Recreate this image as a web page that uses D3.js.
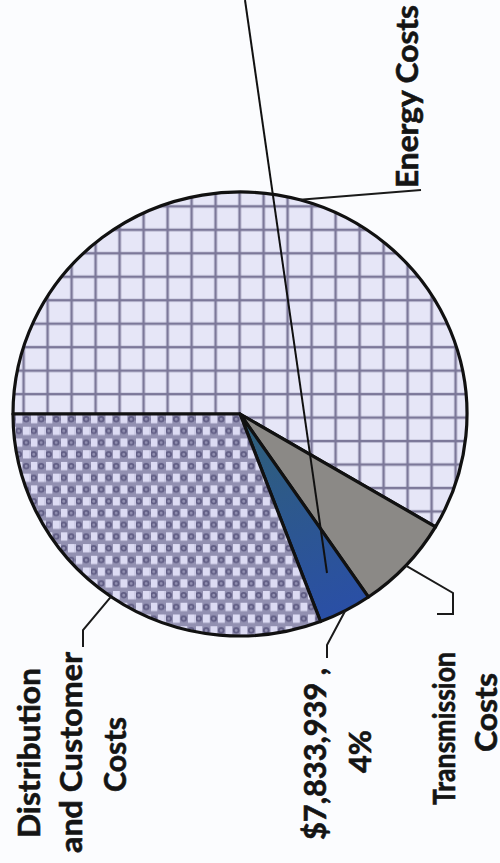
<!DOCTYPE html>
<html>
<head>
<meta charset="utf-8">
<script src="https://cdn.jsdelivr.net/npm/d3@7/dist/d3.min.js"></script>
<style>
	body { margin: 0; background: #fbfcfe; }
	svg { display: block; }
</style>
</head>
<body>
<div id="chart"></div>
<script>
// slices, clockwise from 9 o'clock
var categories = ["Energy Costs", "Transmission Costs", "Other", "Distribution and Customer Costs"];
var values = [120500000, 14300000, 7833939, 63400000];
var labelLines = [
	["Energy Costs"],
	["Transmission", "Costs"],
	null, // built from the value below
	["Distribution", "and Customer", "Costs"]
];

var width = 500,
	height = 863,
	cx = 240,
	cy = 414,
	radius = 227,
	squash = 0.978;

// where each label sits (baseline x, start y, line length) and the leader bends
var layout = [
	{lines: [[418, 188, 183]], leader: [[421, 190]]},
	{lines: [[455, 805, 153], [497, 752, 79]], leader: [[453, 593], [453, 614], [437, 614]]},
	{lines: [[326, 840, 172], [371, 773, 43]], leader: [[327, 645], [327, 658]]},
	{lines: [[40, 838, 170], [82, 853, 201], [126, 792, 75]], leader: [[83, 630], [83, 647]]}
];

var total = d3.sum(values);
labelLines[2] = [d3.format("$,")(values[2]) + " ,", d3.format(".0%")(values[2] / total)];

var svg = d3.select("#chart").append("svg")
	.attr("width", width)
	.attr("height", height);

var defs = svg.append("defs");

// square grid fill
var grid = defs.append("pattern")
	.attr("id", "grid")
	.attr("patternUnits", "userSpaceOnUse")
	.attr("x", -12.5).attr("y", -8.4)
	.attr("width", 24).attr("height", 24);
grid.append("rect").attr("width", 24).attr("height", 24).attr("fill", "#e6e6f7");
grid.append("rect").attr("x", 10.8).attr("width", 2.6).attr("height", 24).attr("fill", "#7c7899");
grid.append("rect").attr("y", 10.8).attr("width", 24).attr("height", 2.6).attr("fill", "#7c7899");

// checker fill
var checks = defs.append("pattern")
	.attr("id", "checks")
	.attr("patternUnits", "userSpaceOnUse")
	.attr("width", 15).attr("height", 24);
checks.append("rect").attr("width", 15).attr("height", 24).attr("fill", "#9290b1");
[[0.5, 1], [8, 13]].forEach(function(p) {
	checks.append("rect").attr("x", p[0]).attr("y", p[1])
		.attr("width", 6.8).attr("height", 8.5).attr("fill", "#dcdbf3");
});
[[11.2, 5.2], [3.7, 17.2]].forEach(function(p) {
	checks.append("circle").attr("cx", p[0]).attr("cy", p[1]).attr("r", 2.4)
		.attr("fill", "none").attr("stroke", "#615e85").attr("stroke-width", 1.8);
});

var blueGrad = defs.append("linearGradient")
	.attr("id", "blue")
	.attr("gradientUnits", "userSpaceOnUse")
	.attr("x1", 0).attr("y1", 0).attr("x2", 90).attr("y2", 210);
blueGrad.append("stop").attr("offset", "0%").attr("stop-color", "#2f6076");
blueGrad.append("stop").attr("offset", "100%").attr("stop-color", "#2a4fa6");

var fills = ["url(#grid)", "#8b8986", "url(#blue)", "url(#checks)"];

var pie = d3.pie()
	.sort(null)
	.startAngle(-Math.PI / 2)
	.endAngle(3 * Math.PI / 2);

var arc = d3.arc().innerRadius(0).outerRadius(radius);
var rim = d3.arc().innerRadius(radius).outerRadius(radius);

var arcs = pie(values);

var g = svg.append("g")
	.attr("transform", "translate(" + cx + "," + cy + ") scale(1," + squash + ")");

g.selectAll("path.slice")
	.data(arcs)
	.enter().append("path")
	.attr("class", "slice")
	.attr("d", arc)
	.attr("fill", function(d, i) { return fills[i]; })
	.attr("stroke", "#111")
	.attr("stroke-width", 3.2)
	.attr("stroke-linejoin", "round");

// leaders from the middle of each slice's rim
var line = d3.line();
svg.selectAll("path.leader")
	.data(arcs)
	.enter().append("path")
	.attr("class", "leader")
	.attr("d", function(d, i) {
		var c = rim.centroid(d);
		return line([[cx + c[0], cy + c[1] * squash]].concat(layout[i].leader));
	})
	.attr("fill", "none")
	.attr("stroke", "#1a1a1a")
	.attr("stroke-width", 2);

// long stray rule crossing the page
svg.append("line")
	.attr("x1", 245).attr("y1", 0)
	.attr("x2", 327).attr("y2", 573)
	.attr("stroke", "#111")
	.attr("stroke-width", 2);

labelLines.forEach(function(lines, i) {
	lines.forEach(function(txt, j) {
		var p = layout[i].lines[j];
		svg.append("text")
			.attr("transform", "translate(" + p[0] + "," + p[1] + ") rotate(-90)")
			.attr("text-anchor", "start")
			.attr("textLength", p[2])
			.attr("lengthAdjust", "spacingAndGlyphs")
			.style("font-family", "Lato, 'Open Sans', sans-serif")
			.style("font-weight", "bold")
			.style("font-size", "31px")
			.style("fill", "#141414")
			.style("stroke", "#141414")
			.style("stroke-width", 0.6)
			.text(txt);
	});
});
</script>
</body>
</html>
